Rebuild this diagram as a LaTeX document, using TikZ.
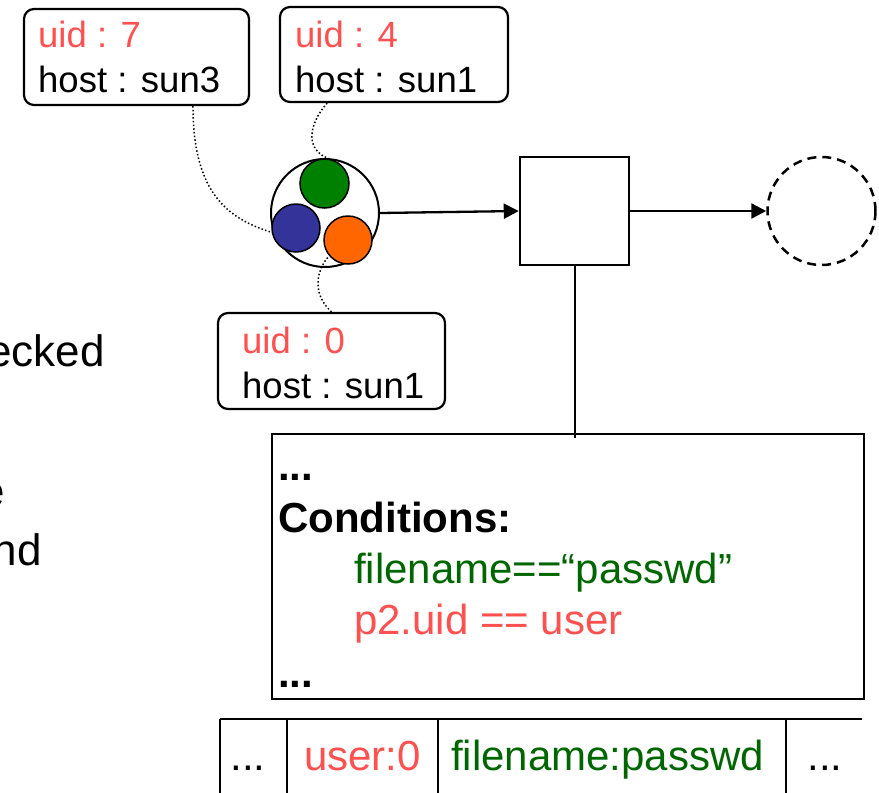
\documentclass[tikz,border=0pt]{standalone}
\usepackage{fontspec}
\setmainfont{Liberation Sans}
\usetikzlibrary{arrows.meta}
\definecolor{myred}{HTML}{FF5050}
\definecolor{mygreen}{HTML}{006600}
\definecolor{cgreen}{HTML}{008000}
\definecolor{cblue}{HTML}{333399}
\definecolor{corange}{HTML}{FF6600}
\begin{document}
\begin{tikzpicture}[x=1pt,y=-1pt,
  ubox/.style={draw, line width=2.2pt, rounded corners=10pt, inner sep=0pt},
  utxt/.style={anchor=base west, inner sep=0pt, font=\fontsize{36.5}{40}\selectfont},
  ctxt/.style={anchor=base west, inner sep=0pt, font=\fontsize{42}{46}\selectfont},
  ttxt/.style={inner sep=0pt, font=\fontsize{42}{46}\selectfont},
  ltxt/.style={anchor=base east, inner sep=0pt, font=\fontsize{44}{48}\selectfont},
  dotline/.style={line width=1.5pt, dash pattern=on 1.5pt off 2.2pt},
  ball/.style={circle, draw, line width=1.5pt, minimum size=48pt, inner sep=0pt},
  arr/.style={line width=2.3pt, -{Triangle[length=15pt,width=15pt]}},
  tline/.style={line width=1.5pt}]
\useasboundingbox (0,0) rectangle (879,793);

% left cut-off text
\node[ltxt] (l1) at (105,366) {ecked};
\node[ltxt] (l2) at (5,506) {e};
\node[ltxt] (l3) at (42,565) {nd};

% uid boxes
\node[ubox, minimum width=225pt, minimum height=96pt] (b1) at (136.5,57) {};
\node[utxt, text=myred] (b1a) at (38,47) {uid : 7};
\node[utxt] (b1b) at (38,92) {host : sun3};

\node[ubox, minimum width=228pt, minimum height=95pt] (b2) at (394,54.5) {};
\node[utxt, text=myred] (b2a) at (295,47) {uid : 4};
\node[utxt] (b2b) at (295,92) {host : sun1};

\node[ubox, minimum width=227pt, minimum height=96pt] (b3) at (331.5,361) {};
\node[utxt, text=myred] (b3a) at (242,353) {uid : 0};
\node[utxt] (b3b) at (242,398) {host : sun1};

% group of processes
\node[circle, draw, line width=2pt, minimum size=108pt, inner sep=0pt] (outer) at (325,213) {};
\node[ball, fill=cgreen, minimum size=49pt] (green) at (324.5,183.5) {};
\node[ball, fill=cblue] (blue) at (296,228) {};
\node[ball, fill=corange] (orange) at (348,240) {};

% dotted connectors
\draw[dotline] (b1.-41) .. controls (193,190) and (225,218) .. (blue.190);
\draw[dotline] (b2.-144) .. controls (308,125) and (305,150) .. (green.80);
\draw[dotline] (b3.north) .. controls (310,292) and (318,268) .. (orange.-140);

% square and dashed circle
\node[draw, line width=2.5pt, minimum width=109pt, minimum height=108pt, inner sep=0pt] (sq) at (574.5,211) {};
\node[circle, draw, dash pattern=on 9pt off 6pt, line width=2.5pt, minimum size=108pt, inner sep=0pt] (dc) at (821.5,211) {};

\draw[arr] (outer.east) -- (sq.west);
\draw[arr] (sq.east) -- (dc.west);

% conditions box
\node[draw, line width=2pt, minimum width=592pt, minimum height=265pt, inner sep=0pt] (cond) at (568,566.5) {};
\coordinate (ve) at (575,438);
\draw[tline] (sq.south -| ve) -- (ve);

\node[ctxt, font=\fontsize{42}{46}\selectfont\bfseries] (c1) at (278,480) {...};
\node[ctxt, font=\fontsize{42}{46}\selectfont\bfseries] (c2) at (278,532) {Conditions:};
\node[ctxt, text=mygreen] (c3) at (354,583) {filename==“passwd”};
\node[ctxt, text=myred] (c4) at (354,634) {p2.uid == user};
\node[ctxt, font=\fontsize{42}{46}\selectfont\bfseries] (c5) at (278,687) {...};

% table
\coordinate (t0) at (220,719);
\coordinate (t1) at (287,719);
\coordinate (t2) at (438,719);
\coordinate (t3) at (786,719);
\coordinate (te) at (862,719);
\draw[tline] (t0) -- (te);
\draw[tline] (t0) -- ++(0,90);
\draw[tline] (t1) -- ++(0,90);
\draw[tline] (t2) -- ++(0,90);
\draw[tline] (t3) -- ++(0,90);
\node[ttxt, anchor=base] (d1) at (248,770) {...};
\node[ttxt, anchor=base west, text=myred] (d2) at (304,770) {user:0};
\node[ttxt, anchor=base west, text=mygreen] (d3) at (451,770) {filename:passwd};
\node[ttxt, anchor=base] (d4) at (825,770) {...};
\end{tikzpicture}
\end{document}
